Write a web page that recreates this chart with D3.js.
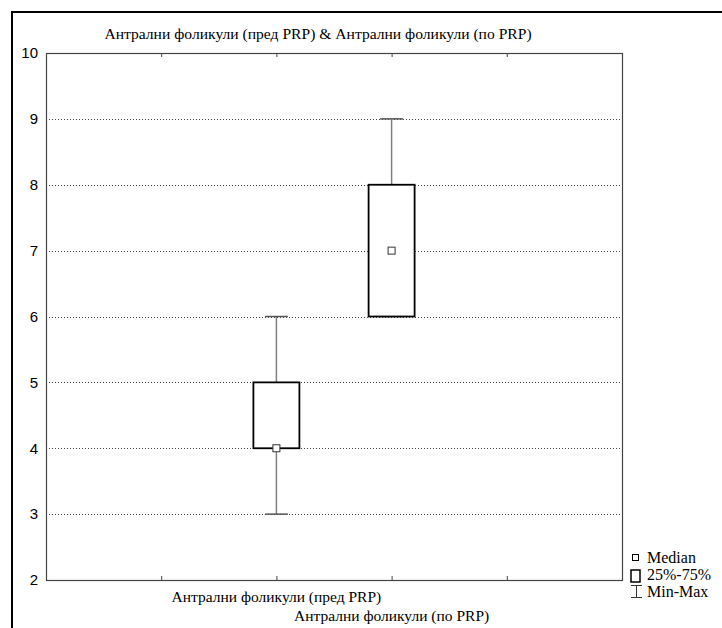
<!DOCTYPE html>
<html>
<head>
<meta charset="utf-8">
<script src="https://cdn.jsdelivr.net/npm/d3@7"></script>
<style>
  html, body { margin: 0; padding: 0; background: #fff; }
  svg { display: block; }
</style>
</head>
<body>
<svg id="chart" width="722" height="628"></svg>
<script>
// Group names and five-number summaries
const categories = ["Антрални фоликули (пред PRP)", "Антрални фоликули (по PRP)"];
const minValues    = [3, 6];
const q1Values     = [4, 6];
const medianValues = [4, 7];
const q3Values     = [5, 8];
const maxValues    = [6, 9];
const yTicks = [2, 3, 4, 5, 6, 7, 8, 9, 10];
const legendLabels = ["Median", "25%-75%", "Min-Max"];
const chartTitle = "Антрални фоликули (пред PRP) & Антрални фоликули (по PRP)";

const svg = d3.select("#chart");
const serif = "'Liberation Serif', 'Times New Roman', serif";
const sans = "'Liberation Sans', Arial, sans-serif";

const plot = { left: 46, right: 622, top: 53, bottom: 580 };

const y = d3.scaleLinear().domain([2, 10]).range([plot.bottom, plot.top]);
// Two empty slots on the left, one on the right of the groups
const x = d3.scaleLinear().domain([-2, categories.length + 1]).range([plot.left, plot.right]);

// Outer frame (top and left edges)
svg.append("path")
  .attr("d", "M12,628 V12 H722")
  .attr("fill", "none").attr("stroke", "#000").attr("stroke-width", 2);

// Title
svg.append("text")
  .attr("x", 318).attr("y", 39)
  .attr("text-anchor", "middle")
  .style("font-family", serif).style("font-size", "15.6px")
  .text(chartTitle);

// Horizontal dotted grid
svg.append("g").selectAll("line")
  .data(yTicks.filter(t => t > 2 && t < 10))
  .join("line")
  .attr("x1", plot.left).attr("x2", plot.right)
  .attr("y1", d => Math.round(y(d)) + 0.5).attr("y2", d => Math.round(y(d)) + 0.5)
  .attr("stroke", "#444").attr("stroke-width", 1).attr("stroke-dasharray", "1,2");

// Y axis labels
const yAxis = d3.axisLeft(y).tickValues(yTicks).tickSize(0).tickPadding(8).tickFormat(d3.format("d"));
const gy = svg.append("g").attr("transform", `translate(${plot.left},0)`).call(yAxis);
gy.select(".domain").remove();
gy.selectAll("text").style("font-family", sans).style("font-size", "15px").attr("fill", "#000");

// Inner ticks on bottom and top edges
const slotTicks = d3.range(-1, categories.length + 1);
const gxb = svg.append("g").attr("transform", `translate(0,${plot.bottom})`)
  .call(d3.axisBottom(x).tickValues(slotTicks).tickSizeInner(-4).tickSizeOuter(0).tickFormat(""));
gxb.select(".domain").remove();
gxb.selectAll("line").attr("stroke", "#444");
const gxt = svg.append("g").attr("transform", `translate(0,${plot.top})`)
  .call(d3.axisTop(x).tickValues(slotTicks).tickSizeInner(-4).tickSizeOuter(0).tickFormat(""));
gxt.select(".domain").remove();
gxt.selectAll("line").attr("stroke", "#444");

// Plot frame
svg.append("rect")
  .attr("x", plot.left + 0.5).attr("y", plot.top + 0.5)
  .attr("width", plot.right - plot.left).attr("height", plot.bottom - plot.top)
  .attr("fill", "none").attr("stroke", "#444").attr("stroke-width", 1.2);

// Category labels, staggered
svg.append("g").selectAll("text")
  .data(categories)
  .join("text")
  .attr("x", (d, i) => x(i))
  .attr("y", (d, i) => 602 + i * 19)
  .attr("text-anchor", "middle")
  .style("font-family", serif).style("font-size", "15.5px")
  .text(d => d);

// Box plots
const boxW = 46, capW = 23, medS = 7;
const groups = categories.map((c, i) => ({
  i, min: minValues[i], q1: q1Values[i], med: medianValues[i], q3: q3Values[i], max: maxValues[i]
}));
const g = svg.append("g").selectAll("g").data(groups).join("g");

// Whiskers
g.append("line")
  .attr("x1", d => x(d.i)).attr("x2", d => x(d.i))
  .attr("y1", d => y(d.q3)).attr("y2", d => y(d.max))
  .attr("stroke", "#808080").attr("stroke-width", 1.5);
g.append("line")
  .attr("x1", d => x(d.i)).attr("x2", d => x(d.i))
  .attr("y1", d => y(d.q1)).attr("y2", d => y(d.min))
  .attr("stroke", "#808080").attr("stroke-width", 1.5);
// Caps
g.selectAll(".cap").data(d => [d.min, d.max].map(v => ({ i: d.i, v })))
  .join("line").attr("class", "cap")
  .attr("x1", d => x(d.i) - capW / 2).attr("x2", d => x(d.i) + capW / 2)
  .attr("y1", d => y(d.v)).attr("y2", d => y(d.v))
  .attr("stroke", "#555").attr("stroke-width", 1.5);
// Boxes
g.append("rect")
  .attr("x", d => x(d.i) - boxW / 2).attr("width", boxW)
  .attr("y", d => y(d.q3)).attr("height", d => y(d.q1) - y(d.q3))
  .attr("fill", "#fff").attr("stroke", "#000").attr("stroke-width", 1.8);
// Median markers
g.append("rect")
  .attr("x", d => x(d.i) - medS / 2).attr("y", d => y(d.med) - medS / 2)
  .attr("width", medS).attr("height", medS)
  .attr("fill", "#fff").attr("stroke", "#333").attr("stroke-width", 1);

// Legend
const lg = svg.append("g");
lg.append("rect").attr("x", 632.5).attr("y", 554.5).attr("width", 6).attr("height", 6)
  .attr("fill", "#fff").attr("stroke", "#000").attr("stroke-width", 1);
lg.append("rect").attr("x", 631).attr("y", 570).attr("width", 9).attr("height", 12)
  .attr("fill", "#fff").attr("stroke", "#000").attr("stroke-width", 1.5);
lg.append("path").attr("d", "M631,585.5 H642 M636.5,585.5 V597.5 M631,597.5 H642")
  .attr("fill", "none").attr("stroke", "#333").attr("stroke-width", 1);
lg.selectAll("text").data(legendLabels).join("text")
  .attr("x", 647).attr("y", (d, i) => 563 + i * 17)
  .style("font-family", serif).style("font-size", "16px")
  .text(d => d);
</script>
</body>
</html>
